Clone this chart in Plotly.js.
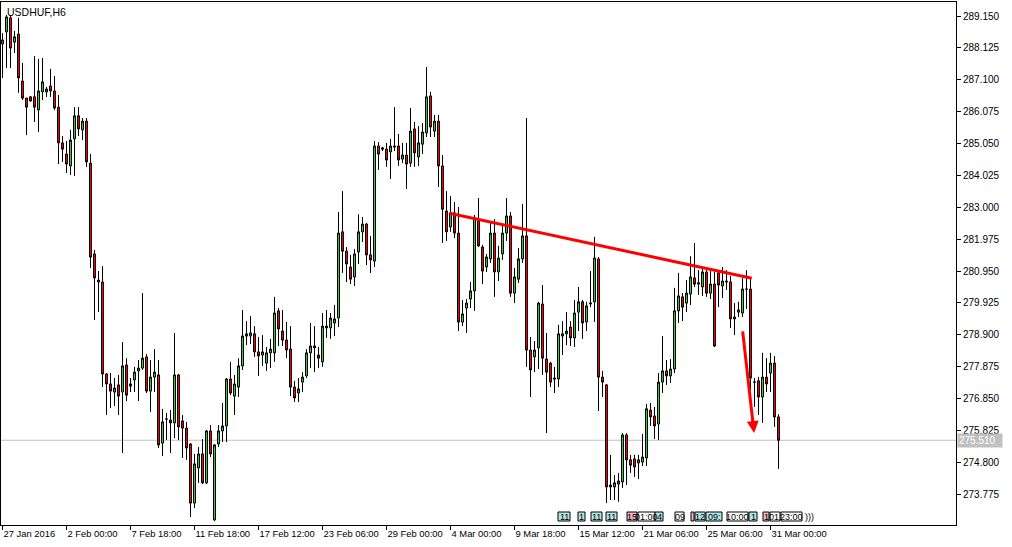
<!DOCTYPE html>
<html><head><meta charset="utf-8">
<script src="https://cdn.plot.ly/plotly-3.0.1.min.js"></script>
<style>html,body{margin:0;padding:0;background:#fff;}#chart{width:1012px;height:547px;}</style>
</head><body><div id="chart"></div>
<script>
const symbolTitle = 'USDHUF,H6';

const openP = [
288.25,288.64,289.09,288.31,288.57,287.06,286.51,286.55,286.55,286.13,
286.71,286.71,286.90,286.74,286.22,285.07,284.71,284.33,285.20,285.94,
285.49,285.77,284.42,281.50,280.66,280.60,277.64,277.32,277.06,277.29,
277.06,277.93,277.32,277.45,277.74,277.83,278.19,277.09,277.54,277.61,
275.42,276.19,276.16,276.07,277.61,276.13,275.90,275.39,273.49,274.62,
275.07,274.14,275.81,272.95,275.39,275.81,275.97,277.48,276.93,277.22,
277.90,278.86,278.86,278.93,278.35,278.25,277.99,278.32,278.32,279.67,
279.02,278.73,278.44,277.22,277.03,277.38,277.58,278.32,278.54,278.25,
278.03,279.18,279.12,279.28,279.44,282.21,281.59,281.08,280.76,281.56,
282.21,282.46,281.47,281.27,284.97,284.91,284.87,284.78,284.97,284.97,
284.55,284.68,284.42,285.52,284.62,285.03,285.39,286.58,285.45,285.77,
284.33,282.88,282.37,282.82,282.17,279.31,279.76,280.05,280.31,282.56,
281.72,281.08,281.34,282.17,280.92,281.50,282.17,282.72,280.24,280.69,
281.34,282.08,278.41,278.19,278.48,279.89,278.12,277.99,277.51,277.48,
278.86,278.93,279.15,278.80,279.63,279.96,279.31,279.89,279.96,281.34,
277.54,277.29,274.07,274.01,274.10,274.17,275.68,274.88,274.91,274.78,
274.81,274.94,276.48,276.29,276.03,277.38,277.74,277.58,277.80,279.67,
280.12,279.92,280.21,280.73,280.53,280.44,280.92,280.24,280.53,280.89,
280.47,280.63,280.60,279.41,279.63,279.60,280.37,280.37,277.38,277.42,
276.90,277.54,277.67,277.99,276.26];

const highP = [
288.60,289.18,289.18,288.67,289.09,287.64,286.51,286.58,287.86,287.77,
287.80,286.87,287.45,287.22,286.61,285.29,285.13,285.49,286.22,286.22,
285.87,285.87,284.71,281.63,280.95,281.11,277.67,277.67,277.51,277.61,
278.67,278.15,277.51,277.87,278.09,280.24,278.28,278.09,278.44,278.09,
276.52,276.39,276.48,278.96,277.64,276.32,276.10,275.42,275.07,275.29,
275.55,275.84,276.00,275.39,276.00,276.71,277.51,278.03,277.61,278.15,
279.70,279.34,279.50,279.18,278.83,278.89,278.51,278.77,280.12,279.76,
279.70,279.31,279.18,277.42,277.51,277.70,278.44,279.28,279.18,278.51,
279.60,279.70,279.60,279.86,282.85,283.52,281.72,281.47,281.66,282.78,
282.69,282.50,282.08,285.13,285.10,284.94,285.07,285.20,286.22,285.36,
285.07,285.07,286.19,285.74,285.61,285.71,287.51,286.71,285.97,285.97,
284.68,283.52,283.36,283.17,283.01,280.02,280.05,280.60,282.75,283.30,
281.79,281.50,282.50,282.62,281.76,282.43,283.30,282.85,281.05,281.69,
283.11,285.87,278.83,278.70,279.96,280.50,278.96,278.03,277.87,279.22,
279.34,279.63,279.34,280.02,280.44,280.02,279.96,280.95,282.05,281.40,
277.74,277.32,275.04,274.39,274.46,275.74,275.74,275.04,275.04,275.04,
275.71,276.68,276.71,276.58,277.67,278.86,278.09,278.12,280.41,280.89,
280.24,280.66,281.43,281.85,280.98,281.05,280.98,281.02,280.92,280.98,
281.08,280.98,280.79,279.92,279.96,280.73,280.98,280.73,277.51,277.54,
278.32,278.15,278.32,278.22,276.35];

const lowP = [
287.16,287.48,287.48,287.96,286.68,286.45,285.32,286.39,285.74,285.42,
286.45,286.55,286.55,286.13,284.39,284.46,284.10,284.04,284.01,285.29,
285.16,284.30,281.05,279.38,279.63,277.22,276.32,276.55,276.61,276.32,
275.10,276.77,277.06,277.06,276.77,277.77,277.03,276.42,277.06,275.26,
275.00,275.52,275.10,275.58,275.52,274.94,274.88,273.04,273.33,274.14,
274.10,274.10,274.97,272.91,275.29,275.45,275.45,276.96,276.32,276.90,
277.77,278.57,278.60,278.19,277.58,277.90,277.74,277.83,278.03,278.54,
278.54,278.15,276.93,276.74,276.74,277.06,277.51,277.83,277.70,277.83,
277.87,278.80,278.77,278.86,279.15,280.89,280.60,280.53,280.47,281.18,
281.88,281.14,280.89,281.08,284.20,284.81,284.30,283.91,284.81,284.33,
284.42,283.59,284.30,284.30,284.33,284.71,285.26,285.26,285.26,283.65,
281.85,281.92,282.21,282.01,279.02,279.18,278.96,279.76,279.67,281.72,
280.53,280.92,281.21,280.12,280.63,281.31,281.92,280.12,279.92,280.57,
281.21,277.87,276.90,277.70,277.80,277.61,275.74,277.22,277.03,277.22,
278.25,278.57,278.54,278.51,279.02,278.77,279.02,279.79,279.31,276.45,
276.90,273.49,273.59,273.59,273.53,273.98,274.07,274.46,274.33,274.26,
274.68,274.68,275.97,275.55,275.52,277.03,277.29,277.35,277.67,279.28,
279.34,279.63,279.86,280.44,280.18,280.15,280.12,280.05,278.51,279.79,
280.08,280.34,279.12,278.89,279.47,279.47,279.73,277.13,276.58,276.32,
276.07,277.06,277.06,275.94,274.59];

const closeP = [
288.38,289.12,288.12,288.48,287.16,286.51,286.22,286.42,286.22,286.74,
287.03,286.80,286.74,286.19,285.07,284.87,284.39,285.16,285.94,285.52,
285.77,284.46,281.40,280.73,280.60,277.64,277.32,277.09,277.19,276.93,
277.90,276.96,277.25,277.70,277.83,278.15,277.09,277.54,277.70,275.36,
276.10,276.19,276.07,277.61,275.94,275.90,275.26,273.49,274.75,275.07,
274.14,275.81,275.07,275.36,275.81,275.97,277.48,277.03,277.32,277.90,
278.86,278.93,278.96,278.35,278.22,278.35,278.32,278.44,279.60,279.09,
278.73,278.41,277.22,276.87,277.16,277.54,278.32,278.54,278.48,278.15,
279.18,279.12,279.44,279.41,282.17,281.59,281.18,280.69,281.50,282.21,
282.46,281.47,281.31,284.97,284.71,284.87,284.52,284.97,284.94,284.52,
284.68,284.39,285.45,284.75,285.07,285.42,286.55,285.58,285.77,284.33,
282.94,282.21,282.82,282.17,279.31,279.57,279.92,280.31,282.66,281.76,
280.95,281.40,282.17,280.92,281.37,282.17,282.72,280.24,280.76,281.34,
282.08,278.41,277.77,278.41,279.92,278.15,277.70,277.38,277.48,278.93,
278.93,279.02,278.80,279.60,279.96,279.28,279.83,279.92,281.37,277.54,
277.38,274.01,274.01,274.14,274.20,275.68,274.88,274.71,274.65,274.88,
274.97,276.52,276.26,275.97,277.38,277.74,277.58,277.80,279.67,280.15,
279.79,280.24,280.76,280.53,280.57,280.92,280.24,280.53,278.54,280.50,
280.63,280.60,279.41,279.47,279.70,280.37,280.37,277.51,277.38,276.90,
277.54,277.32,277.99,276.26,275.51];

const xTickIdx = [0,16,32,48,64,80,96,112,128,144,160,176,192];
const xTickText = ['27 Jan 2016','2 Feb 00:00','7 Feb 18:00','11 Feb 18:00','17 Feb 12:00','23 Feb 06:00','29 Feb 00:00','4 Mar 00:00','9 Mar 18:00','15 Mar 12:00','21 Mar 06:00','25 Mar 06:00','31 Mar 00:00'];
const priceTicks = ['289.150','288.125','287.100','286.075','285.050','284.025','283.000','281.975','280.950','279.925','278.900','277.875','276.850','275.825','274.800','273.775'];
const lastPrice = 275.51;
const lastPriceText = '275.510';
const trendX = [111.8, 187.3];
const trendY = [282.81, 280.72];
const arrowX = [185.0, 187.9];
const arrowY = [279.06, 275.74];

// bottom event markers (decoration)
const eventText = ['11','1','11','11','15','01:00','4','09','','12','09:','10:00','1','1','01:','23:00'];
const eventKind = ['c','c','c','c','p','w','c','w','p','c','c','w','c','p','w','w'];
const eventPx = [[558,570],[578,585],[591,602],[606,617],[627,637],[638,655],[655,663],[675,684],[691,694],[695,705],[706,722],[727,748],[749,757],[763,769],[770,780],[781,802]];

const idx = openP.map((_, i) => i);
const FONT = 'Liberation Sans, Arial, sans-serif';

const traces = [
  {
    type: 'candlestick', x: idx, open: openP, high: highP, low: lowP, close: closeP,
    increasing: {line: {color: '#000000', width: 1}, fillcolor: '#32cd32'},
    decreasing: {line: {color: '#000000', width: 1}, fillcolor: '#ff0000'},
    whiskerwidth: 0, hoverinfo: 'skip', showlegend: false
  },
  {
    type: 'scatter', mode: 'lines', x: trendX, y: trendY,
    line: {color: '#ff0000', width: 3}, hoverinfo: 'skip', showlegend: false
  }
];

const kindColor = {c: '#b0e6e6', p: '#f2b6bf', w: '#ffffff'};
const px2paper = p => (p - 1) / 955;
const evY0 = (525 - 521) / 523, evY1 = (525 - 512) / 523;

const shapes = [
  {type: 'line', xref: 'paper', x0: 0, x1: 1, yref: 'y', y0: lastPrice, y1: lastPrice,
   line: {color: '#c0c0c0', width: 1}, layer: 'below'}
];
const annotations = [
  {xref: 'paper', yref: 'paper', x: 0, y: 1, xanchor: 'left', yanchor: 'top', xshift: 4, yshift: -2,
   text: symbolTitle, showarrow: false, font: {family: FONT, size: 10.5, color: '#000'}},
  {xref: 'paper', x: 1, xanchor: 'left', xshift: 1, yref: 'y', y: lastPrice, yanchor: 'middle',
   text: lastPriceText, showarrow: false, bgcolor: '#c0c0c0', borderpad: 1, width: 42, align: 'left',
   font: {family: FONT, size: 10, color: '#ffffff'}},
  {xref: 'x', yref: 'y', axref: 'x', ayref: 'y', x: arrowX[1], y: arrowY[1], ax: arrowX[0], ay: arrowY[0],
   text: '', showarrow: true, arrowhead: 2, arrowsize: 0.8, arrowwidth: 3, arrowcolor: '#ff0000'}
];

eventPx.forEach((r, i) => {
  shapes.push({type: 'rect', xref: 'paper', yref: 'paper', x0: px2paper(r[0]), x1: px2paper(r[1]), y0: evY0, y1: evY1,
    fillcolor: kindColor[eventKind[i]], line: {color: '#000', width: 1}});
  if (eventText[i]) annotations.push({xref: 'paper', yref: 'paper', x: px2paper((r[0] + r[1]) / 2), y: (evY0 + evY1) / 2,
    xanchor: 'center', yanchor: 'middle', text: eventText[i], showarrow: false,
    font: {family: FONT, size: 9, color: '#000'}});
});
annotations.push({xref: 'paper', yref: 'paper', x: px2paper(803), y: (evY0 + evY1) / 2, xanchor: 'left', yanchor: 'middle',
  text: ')))', showarrow: false, font: {family: FONT, size: 9, color: '#000'}});

const layout = {
  width: 1012, height: 547,
  margin: {l: 1, r: 56, t: 2, b: 22, pad: 0},
  paper_bgcolor: '#ffffff', plot_bgcolor: '#ffffff',
  showlegend: false, boxgap: 0.5, boxgroupgap: 0, boxmode: 'overlay',
  xaxis: {
    range: [-0.375, 238.375], rangeslider: {visible: false}, type: 'linear',
    showgrid: false, zeroline: false, showline: true, mirror: true, linecolor: '#000', linewidth: 1,
    tickmode: 'array', tickvals: xTickIdx, ticktext: xTickText, ticks: 'outside', ticklen: 4, tickcolor: '#000',
    ticklabelposition: 'outside right', tickangle: 0, tickfont: {family: FONT, size: 9.4, color: '#000'}, fixedrange: true
  },
  yaxis: {
    side: 'right', range: [272.785, 289.60],
    showgrid: false, zeroline: false, showline: true, mirror: true, linecolor: '#000', linewidth: 1,
    tickmode: 'array', tickvals: priceTicks.map(Number), ticktext: priceTicks, ticks: 'outside', ticklen: 4, tickcolor: '#000',
    tickfont: {family: FONT, size: 10, color: '#000'}, fixedrange: true
  },
  shapes: shapes, annotations: annotations
};

Plotly.newPlot('chart', traces, layout, {displayModeBar: false, staticPlot: true});
</script></body></html>
